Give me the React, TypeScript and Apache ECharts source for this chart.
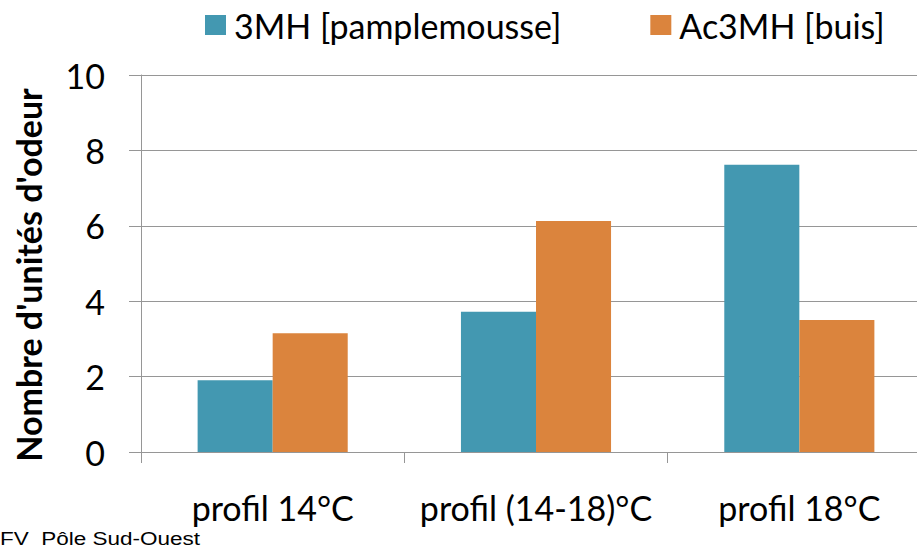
import React, { useEffect, useRef } from "react";
import * as echarts from "echarts";

const categories = ["profil 14°C", "profil (14-18)°C", "profil 18°C"];
const series3MH = [1.9, 3.72, 7.62];
const seriesAc3MH = [3.15, 6.13, 3.5];
const seriesNames = ["3MH [pamplemousse]", "Ac3MH [buis]"];
const yAxisTitle = "Nombre d'unités d'odeur";
const sourceNote = "FV  Pôle Sud-Ouest";

const FONT = "Lato, 'Open Sans', sans-serif";

export default function App() {
  const ref = useRef<HTMLDivElement>(null);
  useEffect(() => {
    if (!ref.current) return;
    const chart = echarts.init(ref.current, undefined, { renderer: "svg" });
    chart.setOption({
      animation: false,
      backgroundColor: "#ffffff",
      textStyle: { fontFamily: FONT },
      legend: {
        left: 200,
        top: 3,
        itemWidth: 21,
        itemHeight: 20,
        itemGap: 89,
        icon: "rect",
        textStyle: { fontSize: 34, color: "#000", fontFamily: FONT, padding: [0, 0, 0, 3] },
        data: seriesNames,
      },
      grid: { left: 141, top: 75, width: 790, height: 377, containLabel: false, outerBoundsMode: "none" },
      xAxis: {
        type: "category",
        data: categories,
        axisLine: { show: true, lineStyle: { color: "#969696", width: 1 } },
        axisTick: { show: true, length: 11, lineStyle: { color: "#969696" } },
        axisLabel: { fontSize: 34, color: "#000", margin: 38, fontFamily: FONT, interval: 0, hideOverlap: false },
        splitLine: { show: false },
      },
      yAxis: {
        type: "value",
        min: 0,
        max: 10,
        interval: 2,
        axisLine: { show: true, lineStyle: { color: "#969696", width: 1 } },
        axisTick: { show: true, length: 12, lineStyle: { color: "#969696" } },
        axisLabel: { fontSize: 34, color: "#000", margin: 36, fontFamily: FONT },
        splitLine: { show: true, lineStyle: { color: "#969696", width: 1 } },
      },
      series: [
        {
          name: seriesNames[0],
          type: "bar",
          data: series3MH,
          itemStyle: { color: "#4398B1" },
          barGap: "0%",
          barCategoryGap: "43%",
        },
        {
          name: seriesNames[1],
          type: "bar",
          data: seriesAc3MH,
          itemStyle: { color: "#DB843D" },
          barGap: "0%",
          barCategoryGap: "43%",
        },
      ],
      graphic: [
        {
          type: "text",
          x: 28,
          y: 275,
          rotation: Math.PI / 2,
          style: {
            text: yAxisTitle,
            fontSize: 34,
            fontWeight: "bold",
            fontFamily: FONT,
            fill: "#000",
            align: "center",
            verticalAlign: "middle",
          },
        },
        {
          type: "text",
          x: 0,
          y: 530,
          scaleX: 1.25,
          style: {
            text: sourceNote,
            fontSize: 18,
            fontFamily: "'Liberation Sans', Arial, sans-serif",
            fill: "#000",
          },
        },
      ],
    });
    return () => chart.dispose();
  }, []);
  return <div ref={ref} style={{ width: 917, height: 550, position: "fixed", left: 0, top: 0 }} />;
}
